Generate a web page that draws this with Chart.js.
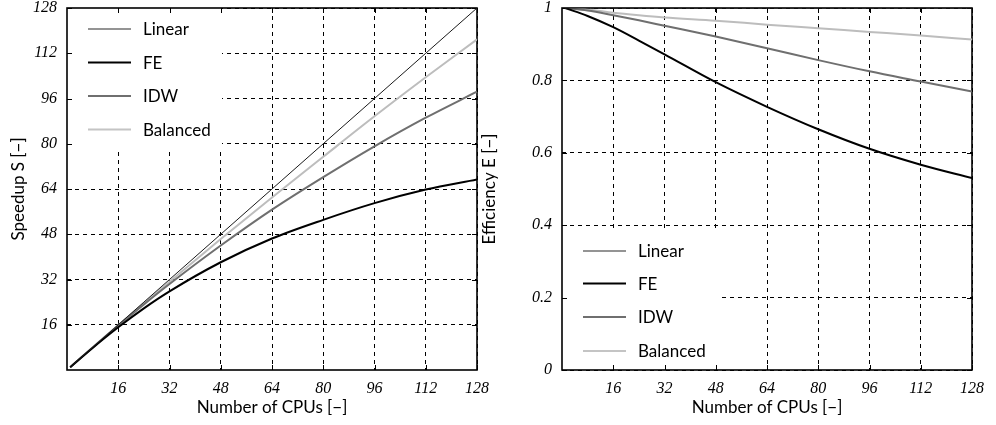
<!DOCTYPE html>
<html><head><meta charset="utf-8">
<script src="https://cdn.jsdelivr.net/npm/chart.js@4.4.1/dist/chart.umd.min.js"></script>
<style>
html,body{margin:0;padding:0;background:#fff;width:996px;height:425px;overflow:hidden}
canvas{position:absolute;top:0}
#c1{left:0}
#c2{left:478px}
</style></head><body>
<canvas id="c1" width="490" height="425"></canvas>
<canvas id="c2" width="518" height="425"></canvas>
<script>
// ---- data ----
const seriesNames = ['Linear', 'FE', 'IDW', 'Balanced'];
const cpus = [1, 8, 16, 24, 32, 48, 64, 80, 96, 112, 128];
const speedupLinear   = [1, 8, 16, 24, 32, 48, 64, 80, 96, 112, 128];
const speedupFE       = [1, 7.8, 15.1, 21.8, 27.8, 38.1, 46.5, 53.1, 59.0, 63.8, 67.4];
const speedupIDW      = [1, 7.95, 15.7, 23.2, 30.4, 44.0, 56.7, 68.2, 79.1, 89.2, 98.4];
const speedupBalanced = [1, 7.97, 15.8, 23.6, 31.2, 46.3, 61.0, 75.4, 89.7, 103.5, 116.9];
const effLinear   = [1, 1, 1, 1, 1, 1, 1, 1, 1, 1, 1];
const effFE       = [1, 0.978, 0.947, 0.91, 0.872, 0.795, 0.727, 0.665, 0.611, 0.567, 0.530];
const effIDW      = [1, 0.993, 0.980, 0.966, 0.951, 0.921, 0.889, 0.856, 0.825, 0.797, 0.769];
const effBalanced = [1, 0.996, 0.987, 0.980, 0.974, 0.965, 0.954, 0.944, 0.934, 0.924, 0.913];
const cpuTicks = [16, 32, 48, 64, 80, 96, 112, 128];
const speedupTicks = [16, 32, 48, 64, 80, 96, 112, 128];
const effTicks = [0, 0.2, 0.4, 0.6, 0.8, 1];

// ---- styles ----
const colors = ['#1a1a1a', '#000000', '#6f6f6f', '#bdbdbd'];
const widths = [1, 2, 2, 2];
const legendColors = ['#707070', '#000000', '#6f6f6f', '#c4c4c4'];
const tickFont = {family: 'Liberation Serif', style: 'italic', size: 16, lineHeight: 1};
const titleFont = {family: 'Lato', size: 17, lineHeight: 1.2};

function makeDatasets(arrs) {
  return arrs.map((arr, i) => ({
    label: seriesNames[i],
    data: cpus.map((c, j) => ({x: c, y: arr[j]})),
    borderColor: colors[i],
    borderWidth: widths[i],
    pointRadius: 0,
    fill: false,
    cubicInterpolationMode: 'monotone'
  }));
}

function decorPlugin(legendPos) {
  return {
    id: 'decor',
    beforeDatasetsDraw(chart) {
      const ctx = chart.ctx, a = chart.chartArea;
      const xs = chart.scales.x, ys = chart.scales.y;
      ctx.save();
      let bx, by, bw, bh, rows;
      if (legendPos === 'tl') {
        bx = a.left; by = a.top; bw = 155; bh = 140;
        rows = [21, 54.5, 88, 121.5].map(v => a.top + v);
      } else {
        bx = a.left; bw = 156; bh = 140; by = a.bottom - bh;
        rows = [-119, -86.5, -53, -19].map(v => a.bottom + v);
      }
      ctx.fillStyle = '#fff';
      ctx.fillRect(bx, by, bw, bh);
      // inward ticks
      ctx.strokeStyle = '#000';
      ctx.lineWidth = 1;
      ctx.beginPath();
      xs.ticks.forEach(t => {
        const p = Math.round(xs.getPixelForValue(t.value)) + 0.5;
        ctx.moveTo(p, a.bottom); ctx.lineTo(p, a.bottom - 5);
        ctx.moveTo(p, a.top); ctx.lineTo(p, a.top + 5);
      });
      ys.ticks.forEach(t => {
        const p = Math.round(ys.getPixelForValue(t.value)) + 0.5;
        ctx.moveTo(a.left, p); ctx.lineTo(a.left + 5, p);
        ctx.moveTo(a.right, p); ctx.lineTo(a.right - 5, p);
      });
      ctx.stroke();
      // frame
      ctx.lineWidth = 1.6;
      ctx.strokeRect(a.left, a.top, a.right - a.left, a.bottom - a.top);
      // legend entries
      ctx.font = '17px Lato';
      ctx.textBaseline = 'middle';
      ctx.textAlign = 'left';
      seriesNames.forEach((n, i) => {
        const y = rows[i];
        ctx.strokeStyle = legendColors[i];
        ctx.lineWidth = i === 0 ? 1.4 : 2;
        ctx.beginPath();
        ctx.moveTo(a.left + 21, y); ctx.lineTo(a.left + 64, y);
        ctx.stroke();
        ctx.fillStyle = '#000';
        ctx.fillText(n, a.left + 76, y + 1);
      });
      ctx.restore();
    }
  };
}

function makeChart(id, arrs, yTicks, yMax, yTitle, yWidth, xHeight, titlePadTop, padRight, legendPos, yFmt) {
  return new Chart(document.getElementById(id), {
    type: 'line',
    data: {datasets: makeDatasets(arrs)},
    options: {
      responsive: false,
      animation: false,
      layout: {padding: {top: 8, right: padRight, bottom: 0, left: 0}},
      plugins: {legend: {display: false}, tooltip: {enabled: false}},
      scales: {
        x: {
          type: 'linear', min: 0, max: 128,
          afterBuildTicks: s => { s.ticks = cpuTicks.map(v => ({value: v})); },
          afterFit: s => { s.height = xHeight; s.paddingLeft = 0; s.paddingRight = 0; },
          ticks: {font: tickFont, color: '#000', padding: 11, maxRotation: 0, autoSkip: false,
                  callback: v => String(v)},
          grid: {color: '#000', lineWidth: 1, drawTicks: false},
          border: {display: false, dash: [4, 4]},
          title: {display: true, text: 'Number of CPUs [−]', font: titleFont, color: '#000',
                  padding: {top: 0, bottom: 7}}
        },
        y: {
          type: 'linear', min: 0, max: yMax,
          afterBuildTicks: s => { s.ticks = yTicks.map(v => ({value: v})); },
          afterFit: s => { s.width = yWidth; s.paddingTop = 0; s.paddingBottom = 0; },
          ticks: {font: tickFont, color: '#000', padding: 10, autoSkip: false, callback: yFmt},
          grid: {color: '#000', lineWidth: 1, drawTicks: false},
          border: {display: false, dash: [4, 4]},
          title: {display: true, text: yTitle, font: titleFont, color: '#000',
                  padding: {top: titlePadTop, bottom: 0}}
        }
      }
    },
    plugins: [decorPlugin(legendPos)]
  });
}

makeChart('c1', [speedupLinear, speedupFE, speedupIDW, speedupBalanced], speedupTicks, 128,
  'Speedup S [−]', 67, 55, 8, 13, 'tl', v => String(v));
makeChart('c2', [effLinear, effFE, effIDW, effBalanced], effTicks, 1,
  'Efficiency E [−]', 84, 55, 1, 24, 'bl', v => String(+(+v).toFixed(1)));
</script>
</body></html>
